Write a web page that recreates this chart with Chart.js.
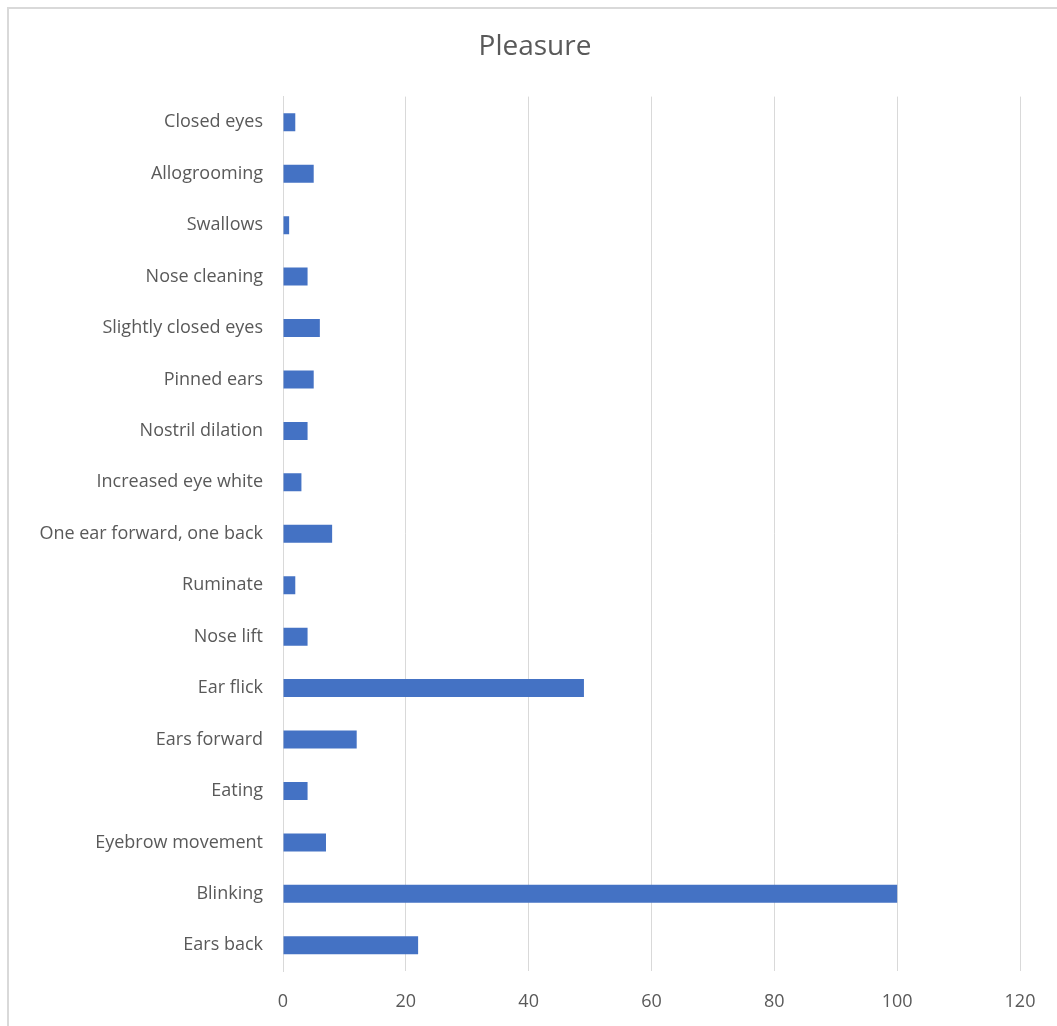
<!DOCTYPE html>
<html>
<head>
<meta charset="utf-8">
<script src="https://cdn.jsdelivr.net/npm/chart.js@4"></script>
<style>
  html, body { margin: 0; padding: 0; background: #fff; overflow: hidden; }
  #frame {
    position: absolute; left: 7px; top: 7px;
    width: 1080px; height: 1060px;
    border: 2px solid #d9d9d9; box-sizing: border-box;
  }
  #wrap { position: absolute; left: 8px; top: 8px; width: 1054px; height: 1018px; }
</style>
</head>
<body>
<div id="frame"></div>
<div id="wrap"><canvas id="chart"></canvas></div>
<script>
// categories top to bottom, as in the picture
const behaviours = [
  'Closed eyes', 'Allogrooming', 'Swallows', 'Nose cleaning',
  'Slightly closed eyes', 'Pinned ears', 'Nostril dilation',
  'Increased eye white', 'One ear forward, one back', 'Ruminate',
  'Nose lift', 'Ear flick', 'Ears forward', 'Eating',
  'Eyebrow movement', 'Blinking', 'Ears back'
];
const counts = [2, 5, 1, 4, 6, 5, 4, 3, 8, 2, 4, 49, 12, 4, 7, 100, 22];
const xTicks = [0, 20, 40, 60, 80, 100, 120];

const textColor = '#595959';
const gridColor = '#d9d9d9';
const fontFamily = '"Open Sans", Lato, sans-serif';

const chart = new Chart(document.getElementById('chart'), {
  type: 'bar',
  data: {
    labels: behaviours,
    datasets: [{
      label: 'Pleasure',
      data: counts,
      backgroundColor: '#4472C4',
      categoryPercentage: 1,
      barPercentage: 0.35
    }]
  },
  options: {
    indexAxis: 'y',
    responsive: true,
    maintainAspectRatio: false,
    animation: false,
    layout: { padding: 0 },
    plugins: {
      legend: { display: false },
      tooltip: { enabled: false },
      title: {
        display: true,
        text: 'Pleasure',
        color: textColor,
        font: { family: fontFamily, size: 28, weight: 'normal' },
        padding: { top: 22, bottom: 33 }
      }
    },
    scales: {
      x: {
        min: 0,
        max: 120,
        afterBuildTicks: (axis) => {
          axis.ticks = xTicks.map(v => ({ value: v }));
        },
        afterFit: (axis) => { axis.height = 55; },
        grid: { color: gridColor, lineWidth: 1, drawTicks: false },
        border: { display: false },
        ticks: {
          color: textColor,
          padding: 20,
          font: { family: fontFamily, size: 18 }
        }
      },
      y: {
        afterFit: (axis) => { axis.width = 275; },
        grid: { display: false, drawTicks: false },
        border: { display: true, color: gridColor, width: 1 },
        ticks: {
          color: textColor,
          padding: 20,
          autoSkip: false,
          font: { family: fontFamily, size: 18 }
        }
      },
      // empty right margin so the title stays centred on the whole frame
      spacer: {
        type: 'linear',
        position: 'right',
        afterFit: (axis) => { axis.width = 42; },
        grid: { display: false },
        border: { display: false },
        ticks: { display: false }
      }
    }
  }
});
</script>
</body>
</html>
